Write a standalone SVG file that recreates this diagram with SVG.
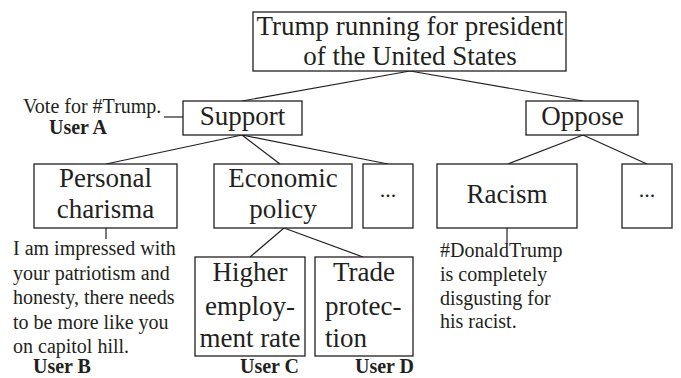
<svg xmlns="http://www.w3.org/2000/svg" width="681" height="378" viewBox="0 0 681 378" font-family="'Liberation Serif', 'Times New Roman', 'DejaVu Serif', serif">
<style>
rect{fill:#fff;stroke:#231f20;stroke-width:1.3}
line{stroke:#231f20;stroke-width:1.2}
text{fill:#231f20}
.n{font-size:27px;text-anchor:middle}
.c{font-size:20px}
.u{font-size:20px;font-weight:bold}
</style>
<rect x="0" y="0" width="681" height="378" style="fill:#fff;stroke:none"/>
<g id="connectors">
<line x1="410" y1="71" x2="242" y2="101"/>
<line x1="410" y1="71" x2="583" y2="101"/>
<line x1="242" y1="135" x2="106" y2="164"/>
<line x1="242" y1="135" x2="280" y2="164"/>
<line x1="242" y1="135" x2="388" y2="164"/>
<line x1="583" y1="135" x2="508" y2="164"/>
<line x1="583" y1="135" x2="647" y2="164"/>
<line x1="284" y1="228" x2="250" y2="257"/>
<line x1="284" y1="228" x2="363" y2="257"/>
<line x1="164" y1="117" x2="183" y2="117"/>
<line x1="106" y1="228" x2="106" y2="239"/>
<line x1="507" y1="228" x2="507" y2="244"/>
</g>
<g id="root">
<rect x="253" y="12" width="313" height="59"/>
<text class="n" x="410" y="35">Trump running for president</text>
<text class="n" x="410" y="65">of the United States</text>
</g>
<g id="support">
<rect x="183" y="101" width="119" height="34"/>
<text class="n" x="242.5" y="125">Support</text>
</g>
<g id="oppose">
<rect x="526" y="101" width="112" height="34"/>
<text class="n" x="582.5" y="125">Oppose</text>
</g>
<g id="personal-charisma">
<rect x="34" y="164" width="143" height="64"/>
<text class="n" x="105.5" y="187">Personal</text>
<text class="n" x="105.5" y="218">charisma</text>
</g>
<g id="economic-policy">
<rect x="214" y="164" width="138" height="64"/>
<text class="n" x="283" y="187">Economic</text>
<text class="n" x="283" y="218">policy</text>
</g>
<g id="support-more">
<rect x="363" y="164" width="50" height="64"/>
<text class="n" x="388" y="197" style="font-size:22px">...</text>
</g>
<g id="racism">
<rect x="437" y="164" width="140" height="64"/>
<text class="n" x="507" y="203">Racism</text>
</g>
<g id="oppose-more">
<rect x="622" y="164" width="50" height="64"/>
<text class="n" x="647" y="197" style="font-size:22px">...</text>
</g>
<g id="higher-employment">
<rect x="195" y="257" width="110" height="99"/>
<text class="n" x="250" y="281">Higher</text>
<text class="n" x="250" y="315">employ-</text>
<text class="n" x="250" y="347">ment rate</text>
</g>
<g id="trade-protection">
<rect x="315" y="257" width="98" height="99"/>
<text class="n" x="364" y="281">Trade</text>
<text class="n" x="325" y="315" style="text-anchor:start">protec-</text>
<text class="n" x="325" y="347" style="text-anchor:start">tion</text>
</g>
<g id="comment-a">
<text class="c" x="23" y="113">Vote for #Trump.</text>
<text class="u" x="49" y="134">User A</text>
</g>
<g id="comment-b">
<text class="c" x="13" y="255">I am impressed with</text>
<text class="c" x="13" y="279.5">your patriotism and</text>
<text class="c" x="13" y="304">honesty, there needs</text>
<text class="c" x="13" y="328.5">to be more like you</text>
<text class="c" x="13" y="353">on capitol hill.</text>
<text class="u" x="33" y="373">User B</text>
</g>
<g id="comment-c">
<text class="u" x="240" y="373">User C</text>
</g>
<g id="comment-d">
<text class="u" x="355" y="373">User D</text>
</g>
<g id="comment-racism">
<text class="c" x="440" y="257">#DonaldTrump</text>
<text class="c" x="440" y="281">is completely</text>
<text class="c" x="440" y="304.5">disgusting for</text>
<text class="c" x="440" y="328">his racist.</text>
</g>
</svg>
